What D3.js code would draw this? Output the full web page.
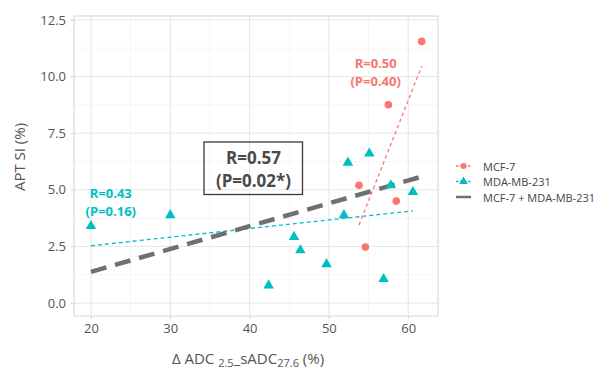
<!DOCTYPE html>
<html>
<head>
<meta charset="utf-8">
<script src="https://cdn.jsdelivr.net/npm/d3@7"></script>
<style>
  body { margin: 0; background: #fff; }
  text { font-family: "Open Sans", sans-serif; }
</style>
</head>
<body>
<div id="chart"></div>
<script>
// data
const mcfX = [53.8, 54.6, 57.5, 58.5, 61.7];
const mcfY = [5.2, 2.47, 8.75, 4.5, 11.55];
const mdaX = [20.0, 30.0, 42.4, 45.6, 46.4, 49.7, 51.9, 52.4, 55.1, 56.9, 57.8, 60.6];
const mdaY = [3.4, 3.88, 0.78, 2.92, 2.33, 1.72, 3.88, 6.2, 6.6, 1.06, 5.2, 4.9];
// fitted lines (end points)
const mcfFit = [[53.8, 3.45], [61.7, 10.45]];
const mdaFit = [[20.0, 2.53], [60.6, 4.07]];
const allFit = [[20.0, 1.38], [61.7, 5.58]];
const xTicks = [20, 30, 40, 50, 60];
const yTicks = [0, 2.5, 5, 7.5, 10, 12.5];
const legendLabels = ["MCF-7", "MDA-MB-231", "MCF-7 + MDA-MB-231"];

const W = 603, H = 373;
const red = "#F8766D", cyan = "#00BFC4", greyLine = "#707070";
const panel = {left: 74, right: 438, top: 16, bottom: 316};

const svg = d3.select("#chart").append("svg")
    .attr("width", W).attr("height", H);

const x = d3.scaleLinear().domain([17.86, 63.76]).range([panel.left, panel.right]);
const y = d3.scaleLinear().domain([-0.57, 12.67]).range([panel.bottom, panel.top]);

// grid
const g = svg.append("g");
const minorX = d3.range(15, 66, 5).filter(v => v % 10 !== 0 && v > 17.86 && v < 63.76);
const minorY = d3.range(-1.25, 13, 2.5).filter(v => v > -0.57 && v < 12.67);
g.selectAll(".mx").data(minorX).join("line")
    .attr("x1", d => x(d)).attr("x2", d => x(d))
    .attr("y1", panel.top).attr("y2", panel.bottom)
    .attr("stroke", "#f0f0f0").attr("stroke-width", 0.6);
g.selectAll(".my").data(minorY).join("line")
    .attr("x1", panel.left).attr("x2", panel.right)
    .attr("y1", d => y(d)).attr("y2", d => y(d))
    .attr("stroke", "#f0f0f0").attr("stroke-width", 0.6);
g.selectAll(".gx").data(xTicks).join("line")
    .attr("x1", d => x(d)).attr("x2", d => x(d))
    .attr("y1", panel.top).attr("y2", panel.bottom)
    .attr("stroke", "#e6e6e6").attr("stroke-width", 1);
g.selectAll(".gy").data(yTicks).join("line")
    .attr("x1", panel.left).attr("x2", panel.right)
    .attr("y1", d => y(d)).attr("y2", d => y(d))
    .attr("stroke", "#e6e6e6").attr("stroke-width", 1);
g.append("rect")
    .attr("x", panel.left).attr("y", panel.top)
    .attr("width", panel.right - panel.left).attr("height", panel.bottom - panel.top)
    .attr("fill", "none").attr("stroke", "#d4d4d4").attr("stroke-width", 1);

// axes
const xAxis = svg.append("g").attr("transform", `translate(0,${panel.bottom})`)
    .call(d3.axisBottom(x).tickValues(xTicks).tickSize(3).tickPadding(5).tickFormat(d3.format("d")));
const yAxis = svg.append("g").attr("transform", `translate(${panel.left},0)`)
    .call(d3.axisLeft(y).tickValues(yTicks).tickSize(3).tickPadding(5).tickFormat(d3.format(".1f")));
[xAxis, yAxis].forEach(a => {
    a.select(".domain").remove();
    a.selectAll(".tick line").attr("stroke", "#cfcfcf");
    a.selectAll(".tick text").attr("fill", "#555").style("font-size", "13px")
        .style("font-family", "'Open Sans', sans-serif");
});

// fit lines
const line = d3.line().x(d => x(d[0])).y(d => y(d[1]));
svg.append("path").datum(mdaFit).attr("d", line)
    .attr("fill", "none").attr("stroke", cyan).attr("stroke-width", 1.3)
    .attr("stroke-dasharray", "4,3");
svg.append("path").datum(allFit).attr("d", line)
    .attr("fill", "none").attr("stroke", greyLine).attr("stroke-width", 4.5)
    .attr("stroke-dasharray", "16,9");
svg.append("path").datum(mcfFit).attr("d", line)
    .attr("fill", "none").attr("stroke", red).attr("stroke-width", 1.3)
    .attr("stroke-dasharray", "3.5,3");

// points
const mcf = mcfX.map((v, i) => [v, mcfY[i]]);
const mda = mdaX.map((v, i) => [v, mdaY[i]]);
svg.selectAll(".mcf").data(mcf).join("circle")
    .attr("cx", d => x(d[0])).attr("cy", d => y(d[1])).attr("r", 3.8)
    .attr("fill", red);
const tri = d3.symbol().type(d3.symbolTriangle).size(48);
svg.selectAll(".mda").data(mda).join("path")
    .attr("d", tri)
    .attr("transform", d => `translate(${x(d[0])},${y(d[1])})`)
    .attr("fill", cyan);

// annotations
function twoLines(cx, cy1, cy2, t1, t2, color, size){
    svg.append("text").attr("x", cx).attr("y", cy1).attr("text-anchor", "middle")
        .attr("dominant-baseline", "central").attr("fill", color)
        .style("font-size", size + "px").style("font-weight", "bold").text(t1);
    svg.append("text").attr("x", cx).attr("y", cy2).attr("text-anchor", "middle")
        .attr("dominant-baseline", "central").attr("fill", color)
        .style("font-size", size + "px").style("font-weight", "bold").text(t2);
}
twoLines(x(22.5), 193, 211, "R=0.43", "(P=0.16)", cyan, 13);
twoLines(x(55.9), 63, 81, "R=0.50", "(P=0.40)", red, 13);
svg.append("rect").attr("x", 204).attr("y", 142).attr("width", 98.5).attr("height", 52.5)
    .attr("fill", "none").attr("stroke", "#3a3a3a").attr("stroke-width", 1.3);
twoLines(253.5, 157.5, 180.5, "R=0.57", "(P=0.02*)", "#4a4a4a", 17);

// axis titles
const xt = svg.append("text").attr("x", 248).attr("y", 364).attr("text-anchor", "middle")
    .attr("fill", "#555").style("font-size", "15px");
xt.append("tspan").text("\u0394 ADC ");
xt.append("tspan").attr("dy", 3).style("font-size", "11px").text("2.5");
xt.append("tspan").attr("dy", -3).text("_sADC");
xt.append("tspan").attr("dy", 3).style("font-size", "11px").text("27.6");
xt.append("tspan").attr("dy", -3).text(" (%)");

svg.append("text").attr("transform", "translate(25,157) rotate(-90)")
    .attr("text-anchor", "middle").attr("fill", "#555")
    .style("font-size", "15px").text("APT SI (%)");

// legend
const leg = svg.append("g").attr("transform", "translate(456,166)");
const rows = leg.selectAll("g").data(legendLabels).join("g")
    .attr("transform", (d, i) => `translate(0,${i * 15.5})`);
rows.append("text").attr("x", 27).attr("y", 0).attr("dominant-baseline", "central")
    .attr("fill", "#444").style("font-size", "11px").text(d => d);
rows.each(function(d, i){
    const r = d3.select(this);
    const col = [red, cyan, greyLine][i];
    r.append("line").attr("x1", 0).attr("x2", 15).attr("y1", 0).attr("y2", 0)
        .attr("stroke", col).attr("stroke-width", i === 2 ? 2.5 : 1.3)
        .attr("stroke-dasharray", i === 2 ? null : "2.5,1.5");
    if(i === 0) r.append("circle").attr("cx", 7.5).attr("cy", 0).attr("r", 3).attr("fill", col);
    if(i === 1) r.append("path").attr("d", d3.symbol().type(d3.symbolTriangle).size(32))
        .attr("transform", "translate(7.5,0)").attr("fill", col);
});
</script>
</body>
</html>
